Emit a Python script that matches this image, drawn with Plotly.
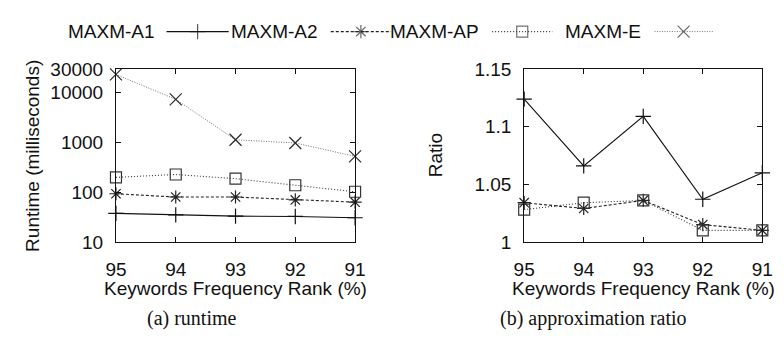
import math
import plotly.graph_objects as go

# Keyword frequency rank (%) on the x axis
ranks = [95, 94, 93, 92, 91]
rank_labels = ["95", "94", "93", "92", "91"]

# (a) runtime in milliseconds
runtime_a1 = [37.4, 35.0, 33.0, 32.5, 30.6]
runtime_a2 = [93, 80, 80, 70, 63]
runtime_ap = [199, 227, 187, 138, 102]
runtime_e = [23500, 7400, 1135, 980, 525]
runtime_ticks = [10, 100, 1000, 10000, 30000]
runtime_tick_labels = ["10", "100", "1000", "10000", "30000"]

# (b) approximation ratio
ratio_a1 = [1.124, 1.066, 1.109, 1.037, 1.060]
ratio_a2 = [1.034, 1.029, 1.036, 1.015, 1.010]
ratio_ap = [1.028, 1.034, 1.036, 1.010, 1.010]
ratio_ticks = [1.0, 1.05, 1.1, 1.15]
ratio_tick_labels = ["1", "1.05", "1.1", "1.15"]

series_names = ["MAXM-A1", "MAXM-A2", "MAXM-AP", "MAXM-E"]

W, H = 784, 343
SANS = "Liberation Sans, Arial, Helvetica, sans-serif"
SERIF = "Liberation Serif, Times New Roman, serif"


def px(x):
    return x / W


def py(y):
    return 1 - y / H


def marker(symbol, size, color):
    return dict(symbol=symbol, size=size, color=color,
                line=dict(color=color, width=1.2))


styles = {
    "MAXM-A1": dict(line=dict(color="#111111", width=1.1, dash="solid"),
                    marker=marker("cross-thin-open", 11, "#111111")),
    "MAXM-A2": dict(line=dict(color="#222222", width=1.1, dash="3px,2px"),
                    marker=marker("asterisk-open", 11, "#222222")),
    "MAXM-AP": dict(line=dict(color="#333333", width=1.1, dash="1px,2px"),
                    marker=marker("square-open", 11, "#333333")),
    "MAXM-E": dict(line=dict(color="#707070", width=1.0, dash="1px,1.5px"),
                   marker=marker("x-thin-open", 12, "#2a2a2a")),
}

fig = go.Figure()

runtime_series = [runtime_a1, runtime_a2, runtime_ap, runtime_e]
for name, vals in zip(series_names, runtime_series):
    st = styles[name]
    fig.add_trace(go.Scatter(x=ranks, y=vals, mode="lines+markers", name=name,
                             line=st["line"], marker=st["marker"],
                             xaxis="x", yaxis="y", cliponaxis=False,
                             showlegend=False))

ratio_series = [ratio_a1, ratio_a2, ratio_ap]
for name, vals in zip(series_names[:3], ratio_series):
    st = styles[name]
    fig.add_trace(go.Scatter(x=ranks, y=vals, mode="lines+markers", name=name,
                             line=st["line"], marker=st["marker"],
                             xaxis="x2", yaxis="y2", cliponaxis=False,
                             showlegend=False))

# Key row along the top: label text followed by a line sample with its marker
key_text_right = [150, 318, 484, 650]
key_sample = [(160, 224), (329, 391), (495, 557), (662, 722)]
key_y = 23
annotations = []
for name, tx, (s0, s1) in zip(series_names, key_text_right, key_sample):
    st = styles[name]
    annotations.append(dict(text=name, x=px(tx), y=py(key_y), xref="paper", yref="paper",
                            xanchor="right", yanchor="middle", showarrow=False,
                            font=dict(family=SANS, size=19, color="#111111")))
    mk = dict(st["marker"])
    mk["size"] = [0, st["marker"]["size"], 0]
    fig.add_trace(go.Scatter(x=[px(s0), px((s0 + s1) / 2), px(s1)],
                             y=[py(key_y)] * 3, mode="lines+markers",
                             line=st["line"], marker=mk, xaxis="x3", yaxis="y3",
                             cliponaxis=False, showlegend=False, hoverinfo="skip"))

# Plot areas (pixel bounds)
L1, R1 = 108, 354
L2, R2 = 528, 773
T, B = 63, 247

axis_common = dict(showline=True, linecolor="#111111", linewidth=1, mirror="ticks",
                   ticks="inside", ticklen=5, tickcolor="#111111", tickwidth=1,
                   showgrid=False, zeroline=False,
                   tickfont=dict(family=SANS, size=19, color="#111111"))

fig.update_layout(
    width=W, height=H,
    margin=dict(l=0, r=0, t=0, b=0),
    paper_bgcolor="white", plot_bgcolor="rgba(0,0,0,0)",
    xaxis=dict(domain=[px(L1), px(R1)], range=[95, 91], anchor="y",
               tickvals=ranks, ticktext=rank_labels, ticklabelstandoff=10,
               **axis_common),
    yaxis=dict(domain=[py(B), py(T)], type="log",
               range=[1, math.log10(30000)], anchor="x",
               tickvals=runtime_ticks, ticktext=runtime_tick_labels,
               ticklabelstandoff=8, **axis_common),
    xaxis2=dict(domain=[px(L2), px(R2)], range=[95, 91], anchor="y2",
                tickvals=ranks, ticktext=rank_labels, ticklabelstandoff=10,
                **axis_common),
    yaxis2=dict(domain=[py(B), py(T)], range=[1.0, 1.15], anchor="x2",
                tickvals=ratio_ticks, ticktext=ratio_tick_labels,
                ticklabelstandoff=8, **axis_common),
    xaxis3=dict(domain=[0, 1], range=[0, 1], visible=False, anchor="y3",
                fixedrange=True),
    yaxis3=dict(domain=[0, 1], range=[0, 1], visible=False, anchor="x3",
                fixedrange=True),
)

# Axis titles and panel captions
annotations += [
    dict(text="Runtime (milliseconds)", x=px(22), y=py((T + B) / 2), textangle=-90,
         font=dict(family=SANS, size=19, color="#111111")),
    dict(text="Ratio", x=px(437), y=py((T + B) / 2), textangle=-90,
         font=dict(family=SANS, size=19, color="#111111")),
    dict(text="Keywords Frequency Rank (%)", x=px((L1 + R1) / 2), y=py(297),
         font=dict(family=SANS, size=19, color="#111111")),
    dict(text="Keywords Frequency Rank (%)", x=px((L2 + R2) / 2), y=py(297),
         font=dict(family=SANS, size=19, color="#111111")),
    dict(text="(a) runtime", x=px(186), y=py(329),
         font=dict(family=SERIF, size=20, color="#111111")),
    dict(text="(b) approximation ratio", x=px(599), y=py(329),
         font=dict(family=SERIF, size=20, color="#111111")),
]
for a in annotations[4:]:
    a.update(xref="paper", yref="paper", xanchor="center", yanchor="middle",
             showarrow=False)

fig.update_layout(annotations=annotations)

fig.write_html("out.html")
